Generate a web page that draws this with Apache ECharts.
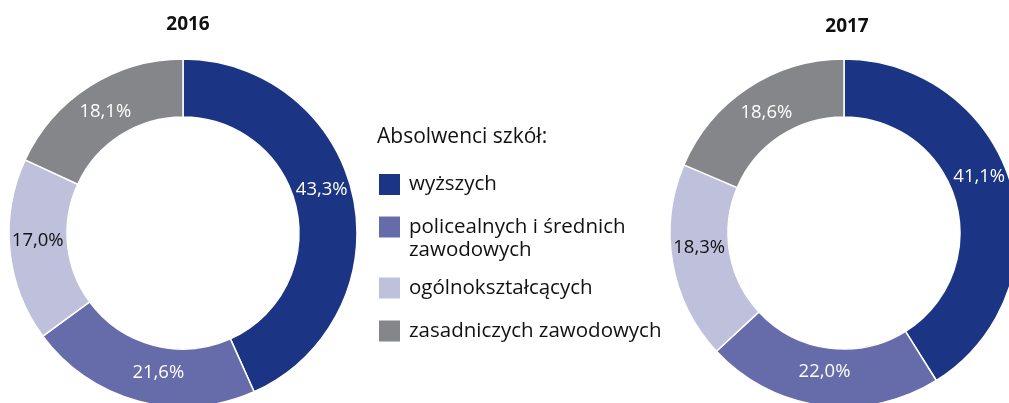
<!DOCTYPE html>
<html>
<head>
<meta charset="utf-8">
<script src="https://cdn.jsdelivr.net/npm/echarts@6/dist/echarts.min.js"></script>
<style>
    html, body { margin: 0; padding: 0; background: #fff; }
    #chart { width: 1009px; height: 403px; }
</style>
</head>
<body>
<div id="chart"></div>
<script>
// data
const categories = ['wyższych', 'policealnych i średnich zawodowych', 'ogólnokształcących', 'zasadniczych zawodowych'];
const values2016 = [43.3, 21.6, 17.0, 18.1];
const values2017 = [41.1, 22.0, 18.3, 18.6];
const years = ['2016', '2017'];

const colors = ['#1b3584', '#666ca9', '#bec0dc', '#858689'];
const labelColors = ['#fff', '#fff', '#111', '#fff'];
// small label nudges, the reference does not put them exactly mid-ring
const labelNudge2016 = [[-6, -12], [13, -3], [2, -7], [2, 3]];
const labelNudge2017 = [[-7, -15], [0, -8], [1, -11], [4, 3]];
const fontFamily = '"Open Sans", "Noto Sans", sans-serif';

let myChart = echarts.init(document.getElementById('chart'));

const fmt = v => v.toFixed(1).replace('.', ',') + '%';

function pieSeries(name, values, center, nudge) {
    return {
        name: name,
        type: 'pie',
        center: center,
        radius: [116, 174],
        startAngle: 90,
        clockwise: true,
        silent: true,
        itemStyle: {borderColor: '#fff', borderWidth: 1.5},
        label: {
            show: true,
            position: 'inside',
            fontFamily: fontFamily,
            fontSize: 18.5,
            formatter: p => fmt(p.value)
        },
        labelLine: {show: false},
        data: values.map((v, i) => ({
            name: categories[i],
            value: v,
            label: {color: labelColors[i], offset: nudge[i]}
        }))
    };
}

// one legend per row so the two-line item sits like in the reference
// (blank first line keeps the icon level with the first text line)
const legendTops = [172, 192.5, 275.5, 318.5];
let legends = categories.map((c, i) => ({
    data: [c],
    left: 377,
    top: legendTops[i],
    padding: 0,
    orient: 'vertical',
    icon: 'rect',
    itemWidth: 23,
    itemHeight: 23,
    selectedMode: false,
    formatter: name => name === categories[1] ? '\npolicealnych i średnich\nzawodowych' : name,
    textStyle: {
        fontFamily: fontFamily, fontSize: 20.5, color: '#111', lineHeight: 23,
        padding: [0, 0, 0, 3]
    }
}));

let option = {
    animation: false,
    color: colors,
    title: [
        {text: years[0], left: 183, top: 10, textAlign: 'center',
            textStyle: {fontFamily: fontFamily, fontSize: 19, fontWeight: 'bold', color: '#111'}},
        {text: years[1], left: 842, top: 12, textAlign: 'center',
            textStyle: {fontFamily: fontFamily, fontSize: 19, fontWeight: 'bold', color: '#111'}},
        {text: 'Absolwenci szkół:', left: 377, top: 125, padding: 0,
            textStyle: {fontFamily: fontFamily, fontSize: 21, lineHeight: 24, fontWeight: 'normal', color: '#111'}}
    ],
    legend: legends,
    series: [
        pieSeries(years[0], values2016, [183, 233], labelNudge2016),
        pieSeries(years[1], values2017, [844, 233], labelNudge2017)
    ]
};

myChart.setOption(option);
</script>
</body>
</html>
